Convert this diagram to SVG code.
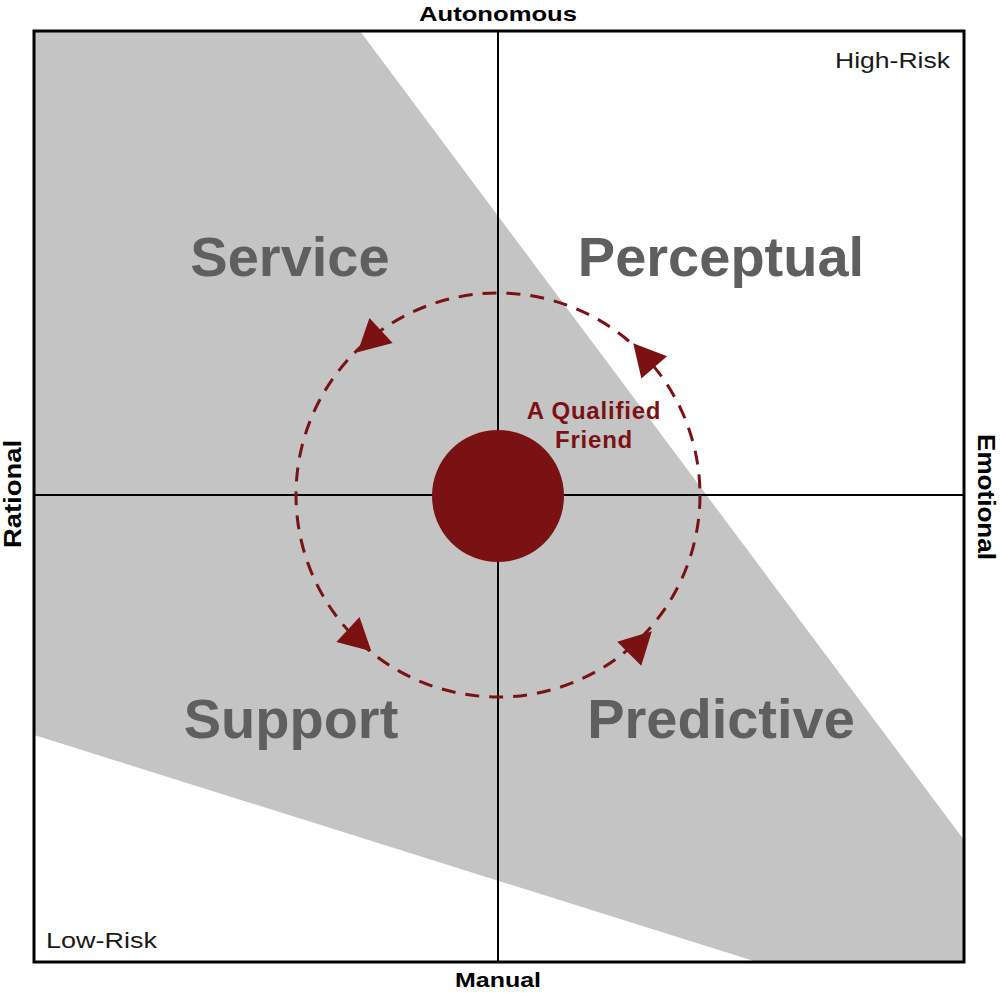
<svg xmlns="http://www.w3.org/2000/svg" width="1000" height="993" viewBox="0 0 1000 993">
<style>
.axis{font-family:"Liberation Sans",Arial,sans-serif;font-weight:bold;font-size:21px;fill:#000;text-anchor:middle}
.side{font-family:"Liberation Sans",Arial,sans-serif;font-weight:bold;font-size:23px;fill:#000;text-anchor:middle}
.risk{font-family:"Liberation Sans",Arial,sans-serif;font-size:22px;fill:#1a1a1a}
.quad{font-family:"Liberation Sans",Arial,sans-serif;font-weight:bold;font-size:56px;fill:#5f5f5f;text-anchor:middle}
.friend{font-family:"Liberation Sans",Arial,sans-serif;font-weight:bold;font-size:24px;fill:#7a1214;text-anchor:middle;letter-spacing:0.8px}
.line{stroke:#000;stroke-width:2;fill:none}
</style>
<defs>
<path id="ah" d="M21,0 L-11,-17 L-11,17 Z" fill="#7a1214"/>
</defs>
<rect width="1000" height="993" fill="#fff"/>
<g id="shade">
<polygon points="34,31 360,31 964,840 964,962 757,962 34,735" fill="#c4c4c4"/>
</g>
<g id="axes">
<line class="line" x1="498" y1="31" x2="498" y2="962"/>
<line class="line" x1="34" y1="495" x2="964" y2="495"/>
<rect x="34" y="31" width="930" height="931" fill="none" stroke="#000" stroke-width="3"/>
</g>
<g id="labels">
<text class="axis" x="498" y="21" textLength="158" lengthAdjust="spacingAndGlyphs">Autonomous</text>
<text class="axis" x="498" y="987" textLength="86" lengthAdjust="spacingAndGlyphs">Manual</text>
<text class="side" transform="translate(13,494) rotate(-90)" x="0" y="0" dy="8" textLength="108" lengthAdjust="spacingAndGlyphs">Rational</text>
<text class="side" transform="translate(986,497) rotate(90)" x="0" y="0" dy="8" textLength="126" lengthAdjust="spacingAndGlyphs">Emotional</text>
<text class="risk" x="950" y="68" text-anchor="end" textLength="115" lengthAdjust="spacingAndGlyphs">High-Risk</text>
<text class="risk" x="46" y="948" textLength="111" lengthAdjust="spacingAndGlyphs">Low-Risk</text>
</g>
<g id="quadrants">
<text class="quad" x="290" y="276">Service</text>
<text class="quad" x="721" y="276">Perceptual</text>
<text class="quad" x="291" y="738">Support</text>
<text class="quad" x="721" y="738">Predictive</text>
</g>
<g id="connectors">
<circle cx="498" cy="495" r="202" fill="none" stroke="#7a1214" stroke-width="3" stroke-dasharray="14 10"/>
<use href="#ah" transform="translate(373,338) rotate(137)"/>
<use href="#ah" transform="translate(647,359) rotate(-131)"/>
<use href="#ah" transform="translate(356,637) rotate(43)"/>
<use href="#ah" transform="translate(637,646) rotate(-45)"/>
</g>
<g id="center">
<circle cx="498" cy="496" r="66" fill="#7a1214"/>
<text class="friend" x="594" y="419">A Qualified</text>
<text class="friend" x="594" y="448">Friend</text>
</g>
</svg>
